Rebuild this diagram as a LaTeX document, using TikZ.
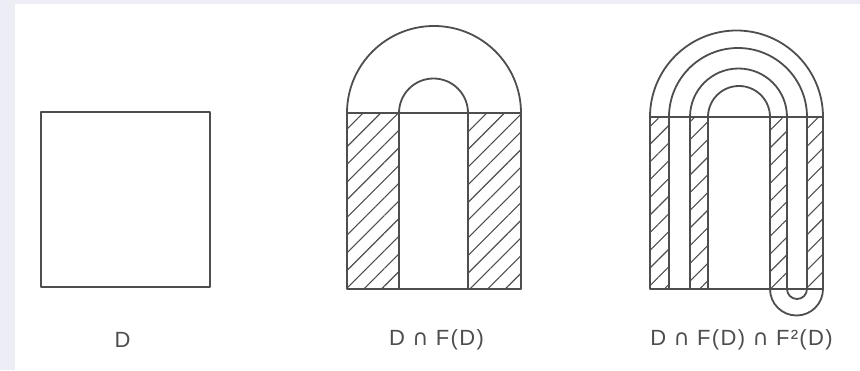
\documentclass[tikz,border=0pt]{standalone}
\usepackage{fontspec}
\setmainfont{Liberation Sans}[LetterSpace=6]
\newfontfamily\capfont{DejaVu Sans}[LetterSpace=6]
\usetikzlibrary{patterns.meta}
\definecolor{ink}{RGB}{78,78,78}
\definecolor{margin}{RGB}{237,237,246}
\newcommand{\inter}{{\capfont ∩}}

\begin{document}
\begin{tikzpicture}[x=1pt,y=1pt,
    outline/.style={draw=ink,line width=1.8pt,line join=round},
    hatch/.style={pattern={Lines[angle=45,distance=12.5pt,line width=1.1pt]},pattern color=ink},
    caption/.style={text=ink,font=\fontsize{22}{26}\selectfont}]
  % page with its pale margin
  \fill[margin] (0,0) rectangle (860,370);
  \fill[white] (15,0) rectangle (860,366);
  \useasboundingbox (0,0) rectangle (860,370);

  % the square D
  \draw[outline] (41,83) rectangle (210,258);
  \node[caption] (capD) at (122.5,30) {D};

  % D cap F(D): two hatched legs, white arch above
  \fill[hatch] (347,81) rectangle (399,257);
  \fill[hatch] (468,81) rectangle (521,257);
  \draw[outline] (347,81) rectangle (521,257);
  \draw[outline] (399,81) -- (399,257) arc[start angle=180,end angle=0,radius=34.5pt] -- (468,81);
  \draw[outline] (347,257) arc[start angle=180,end angle=0,radius=87pt];
  \node[caption] (capDF) at (436.5,30) {D \inter\ F(D)};

  % D cap F(D) cap F^2(D): four thin hatched legs
  \fill[hatch] (650,81) rectangle (669,253);
  \fill[hatch] (690,81) rectangle (708,253);
  \fill[hatch] (770,81) rectangle (787,253);
  \fill[hatch] (807,81) rectangle (823,253);
  \draw[outline] (650,81) rectangle (823,253);
  \foreach \x in {669,690,708,770,787,807}
    \draw[outline] (\x,81) -- (\x,253);
  % nested arches on top
  \draw[outline] (650,253) arc[start angle=180,end angle=0,radius=86.5pt];
  \draw[outline] (669,253) arc[start angle=180,end angle=0,radius=69pt];
  \draw[outline] (690,253) arc[start angle=180,end angle=0,radius=48.5pt];
  \draw[outline] (708,253) arc[start angle=180,end angle=0,radius=31pt];
  % small fold below
  \draw[outline] (770,81) arc[start angle=180,end angle=360,radius=26.5pt];
  \draw[outline] (787,81) arc[start angle=180,end angle=360,radius=10pt];
  \node[caption] (capDFF) at (741.5,30) {D \inter\ F(D) \inter\ F²(D)};
\end{tikzpicture}
\end{document}
